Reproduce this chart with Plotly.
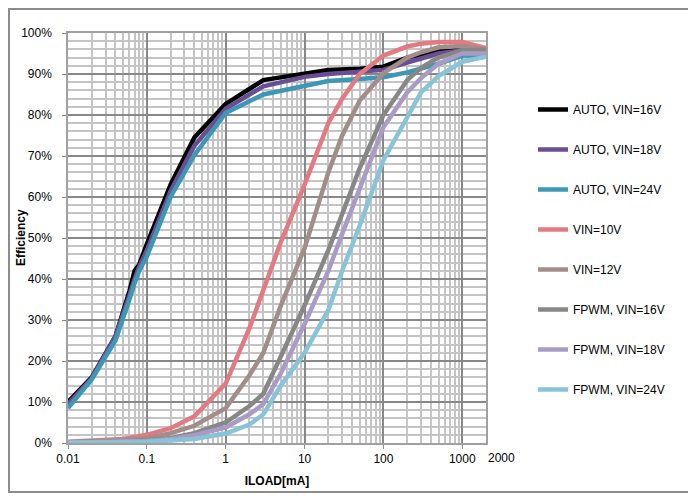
import math
import plotly.graph_objects as go

# ---- data ----
auto_load_mA = [0.01, 0.02, 0.04, 0.05, 0.06, 0.07, 0.08, 0.1, 0.2, 0.4, 1, 3, 10, 20, 50, 100, 200, 500, 1000, 2000]
auto_vin16 = [10, 16, 26, 32, 37, 42, 43.5, 48.5, 63, 74.5, 82.7, 88.5, 90.2, 91, 91.3, 91.8, 94, 95.5, 96, 95.5]
auto_vin18 = [9.5, 15.8, 26, 32, 36, 40, 43, 47, 61.5, 72.5, 81.5, 87, 89.3, 90, 90.5, 91, 92.8, 95, 95.8, 95.2]
auto_vin24 = [8.5, 15.5, 25, 31, 35, 39, 42, 45.5, 60, 70.2, 80.5, 85, 87.2, 88.3, 88.8, 89.2, 90.4, 92.5, 94.5, 94.5]

load_mA = [0.01, 0.02, 0.05, 0.1, 0.2, 0.4, 1, 2, 3, 5, 10, 20, 30, 50, 100, 200, 300, 500, 1000, 2000]
vin10 = [0.3, 0.5, 1.0, 2.0, 3.6, 6.5, 14.5, 28, 37, 49, 63, 78, 84, 90, 94.5, 96.7, 97.4, 97.8, 97.8, 96.3]
vin12 = [0.2, 0.35, 0.7, 1.1, 2.4, 4.2, 8.5, 16.5, 22, 33.5, 47.5, 66, 75, 83.5, 90.2, 94, 95.3, 96.5, 96.8, 95.9]
fpwm_vin16 = [0.1, 0.2, 0.35, 0.6, 1.2, 2.4, 5, 9, 12, 21, 33.5, 47, 56, 67, 80, 88.5, 91.5, 94, 95.8, 95.9]
fpwm_vin18 = [0.1, 0.15, 0.3, 0.5, 1.0, 1.9, 3.8, 7, 9.5, 17, 29, 42, 51, 62, 77, 85.5, 89, 92.5, 95, 95]
fpwm_vin24 = [0.05, 0.1, 0.2, 0.3, 0.6, 1.0, 2.3, 4.5, 7, 14, 22, 32.4, 42, 53, 69, 79.5, 85.5, 89.5, 93, 94.2]

series_names = ["AUTO, VIN=16V", "AUTO, VIN=18V", "AUTO, VIN=24V", "VIN=10V", "VIN=12V",
                "FPWM, VIN=16V", "FPWM, VIN=18V", "FPWM, VIN=24V"]
x_tick_vals = [0.01, 0.1, 1, 10, 100, 1000]
x_tick_text = ["0.01", "0.1", "1", "10", "100", "1000"]
x_max = 2000
x_max_label = "2000"

colors = ["#000000", "#6A4E93", "#3C98B4", "#E27A82", "#A28D8B", "#878787", "#A89BC6", "#88C4D8"]

series = [
    (auto_load_mA, auto_vin16), (auto_load_mA, auto_vin18), (auto_load_mA, auto_vin24),
    (load_mA, vin10), (load_mA, vin12), (load_mA, fpwm_vin16), (load_mA, fpwm_vin18), (load_mA, fpwm_vin24),
]

FONT = "Arial, 'Liberation Sans', sans-serif"

fig = go.Figure()
for i, ((xs, ys), name, c) in enumerate(zip(series, series_names, colors)):
    fig.add_trace(go.Scatter(
        x=xs, y=ys, name=name, mode="lines",
        line=dict(color=c, width=4.5),
        legendgroup=f"g{i}",
    ))

# page body has an 8px margin: screenshot px = figure px + 8
OFF = 8
W, H = 696, 496
ml, mt = 68 - OFF, 33 - OFF
pw, ph = 418, 410
mr, mb = W - ml - pw, H - mt - ph

def px2paper_x(px):
    return (px - OFF - ml) / pw

def px2paper_y(py):
    return (mt + ph - (py - OFF)) / ph

fig.update_layout(
    width=W, height=H,
    margin=dict(l=ml, r=mr, t=mt, b=mb, autoexpand=False),
    paper_bgcolor="white", plot_bgcolor="white",
    font=dict(family=FONT, size=12, color="#000000"),
    showlegend=True,
    legend=dict(
        x=px2paper_x(533), y=px2paper_y(95), xanchor="left", yanchor="top",
        font=dict(family=FONT, size=12, color="#000000"),
        tracegroupgap=21, bgcolor="rgba(0,0,0,0)", itemwidth=30,
    ),
    xaxis=dict(
        type="log", range=[-2, math.log10(x_max)],
        tickmode="array", tickvals=x_tick_vals, ticktext=x_tick_text,
        showgrid=True, gridcolor="#888888", gridwidth=1.5,
        minor=dict(dtick="D1", showgrid=True, gridcolor="#C4C4C4", gridwidth=1.5, ticks=""),
        showline=True, linecolor="#A0A0A0", linewidth=1.5, mirror=True,
        ticks="outside", ticklen=4, tickcolor="#8C8C8C",
        tickfont=dict(family=FONT, size=12),
        title=dict(text="<b>ILOAD[mA]</b>", font=dict(family=FONT, size=12), standoff=11),
        zeroline=False,
    ),
    yaxis=dict(
        range=[0, 100], dtick=10, ticksuffix="%",
        showgrid=True, gridcolor="#888888", gridwidth=1.5,
        minor=dict(dtick=2, showgrid=True, gridcolor="#C4C4C4", gridwidth=1.5, ticks=""),
        showline=True, linecolor="#A0A0A0", linewidth=1.5, mirror=True,
        ticks="outside", ticklen=4, tickcolor="#8C8C8C",
        tickfont=dict(family=FONT, size=12),
        ticklabelstandoff=8,
        zeroline=False,
    ),
    annotations=[
        dict(x=math.log10(x_max), y=px2paper_y(458), xref="x", yref="paper",
             text=x_max_label, showarrow=False, xanchor="left", yanchor="middle",
             font=dict(family=FONT, size=12, color="#000000")),
        dict(x=px2paper_x(21), y=0.5, xref="paper", yref="paper",
             text="<b>Efficiency</b>", textangle=-90, showarrow=False,
             xanchor="center", yanchor="middle",
             font=dict(family=FONT, size=12, color="#000000")),
    ],
    shapes=[
        dict(type="rect", xref="paper", yref="paper",
             x0=px2paper_x(9), x1=px2paper_x(689), y0=px2paper_y(492), y1=px2paper_y(9),
             line=dict(color="#8C8C8C", width=2), layer="below"),
    ],
)

fig.write_html("out.html")
